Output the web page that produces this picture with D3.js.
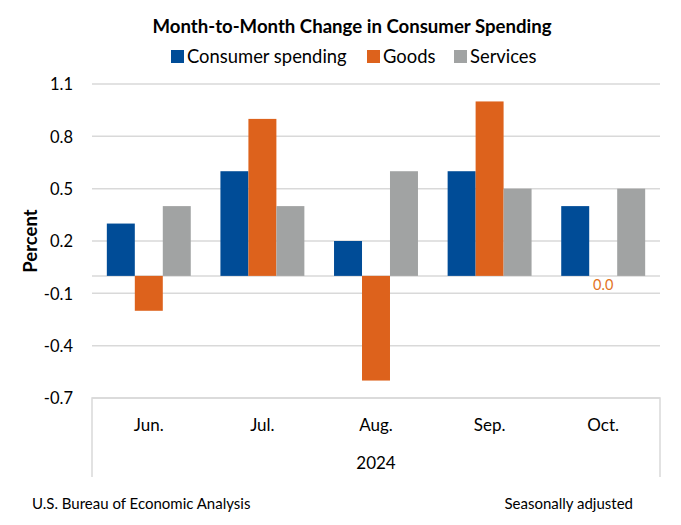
<!DOCTYPE html>
<html><head><meta charset="utf-8">
<script src="https://cdn.jsdelivr.net/npm/d3@7"></script>
<style>body{margin:0;background:#fff;} text{font-family:Lato, "Open Sans", sans-serif;}</style>
</head><body><svg id="c" width="681" height="525"></svg>
<script>
const months = ["Jun.", "Jul.", "Aug.", "Sep.", "Oct."];
const seriesNames = ["Consumer spending", "Goods", "Services"];
const consumerSpending = [0.3, 0.6, 0.2, 0.6, 0.4];
const goods = [-0.2, 0.9, -0.6, 1.0, 0.0];
const services = [0.4, 0.4, 0.6, 0.5, 0.5];
const yTicks = [-0.7, -0.4, -0.1, 0.2, 0.5, 0.8, 1.1];
const colors = ["#004C97", "#DD621C", "#A1A3A3"];
const yearLabel = "2024";

const svg = d3.select("#c");
const L = 92, R = 660, T = 84, B = 398;
const x = d3.scaleBand().domain(months).range([L, R]).paddingInner(0).paddingOuter(0);
const x1 = d3.scaleBand().domain(seriesNames).range([0, x.bandwidth()]).paddingInner(0).paddingOuter(0.53);
const y = d3.scaleLinear().domain([-0.7, 1.1]).range([B, T]);
const fmt = d3.formatLocale({decimal: ".", thousands: ",", grouping: [3], currency: ["", ""], minus: "-"}).format(".1f");

svg.append("text").attr("x", 352).attr("y", 33).attr("text-anchor", "middle")
  .attr("font-size", 18.6).attr("font-weight", "bold").text("Month-to-Month Change in Consumer Spending");

// legend
const legX = [171, 367, 454];
seriesNames.forEach((n, i) => {
  svg.append("rect").attr("x", legX[i]).attr("y", 50).attr("width", 13).attr("height", 13).attr("fill", colors[i]);
  svg.append("text").attr("x", legX[i] + 16).attr("y", 63).attr("font-size", 18.4).text(n);
});

// gridlines
svg.append("g").selectAll("line").data(yTicks).join("line")
  .attr("x1", L).attr("x2", R).attr("y1", d => y(d)).attr("y2", d => y(d))
  .attr("stroke", "#d9d9d9").attr("stroke-width", 1.5);
svg.append("line").attr("x1", L).attr("x2", R).attr("y1", y(0)).attr("y2", y(0))
  .attr("stroke", "#d9d9d9").attr("stroke-width", 1.5);

// y axis labels
const yAxis = d3.axisLeft(y).tickValues(yTicks).tickFormat(fmt).tickSize(0).tickPadding(19);
const ga = svg.append("g").attr("transform", `translate(${L},0)`).call(yAxis);
ga.select(".domain").remove();
ga.selectAll("text").attr("font-size", 16.5).attr("font-family", "Lato, sans-serif").attr("fill", "#000").attr("dy", "0.35em");

svg.append("text").attr("transform", `translate(37,241) rotate(-90)`)
  .attr("text-anchor", "middle").attr("font-size", 18.5).attr("font-weight", "bold").text("Percent");

// bars
const data = months.map((m, i) => ({ m, vals: [consumerSpending[i], goods[i], services[i]] }));
const g = svg.append("g");
data.forEach(d => {
  d.vals.forEach((v, j) => {
    g.append("rect")
      .attr("x", x(d.m) + x1(seriesNames[j]))
      .attr("width", x1.bandwidth())
      .attr("y", y(Math.max(0, v)))
      .attr("height", Math.abs(y(v) - y(0)))
      .attr("fill", colors[j]);
  });
});
// zero label
data.forEach(d => {
  if (d.vals[1] === 0) {
    svg.append("text").attr("x", x(d.m) + x1("Goods") + x1.bandwidth() / 2).attr("y", y(0) + 14)
      .attr("text-anchor", "middle").attr("font-size", 14.5).attr("fill", "#E2731F").text(fmt(d.vals[1]));
  }
});

// category box
const boxB = 477;
svg.append("path").attr("d", `M${L},${boxB}V${B}H${R}V${boxB}`).attr("fill", "none").attr("stroke", "#d9d9d9").attr("stroke-width", 1.5);
svg.append("g").selectAll("text").data(months).join("text")
  .attr("x", d => x(d) + x.bandwidth() / 2).attr("y", 431).attr("text-anchor", "middle").attr("font-size", 17).text(d => d);
svg.append("text").attr("x", (L + R) / 2).attr("y", 469).attr("text-anchor", "middle").attr("font-size", 17).text(yearLabel);

svg.append("text").attr("x", 32).attr("y", 509).attr("font-size", 15).text("U.S. Bureau of Economic Analysis");
svg.append("text").attr("x", 633).attr("y", 509).attr("text-anchor", "end").attr("font-size", 15).text("Seasonally adjusted");
</script></body></html>
